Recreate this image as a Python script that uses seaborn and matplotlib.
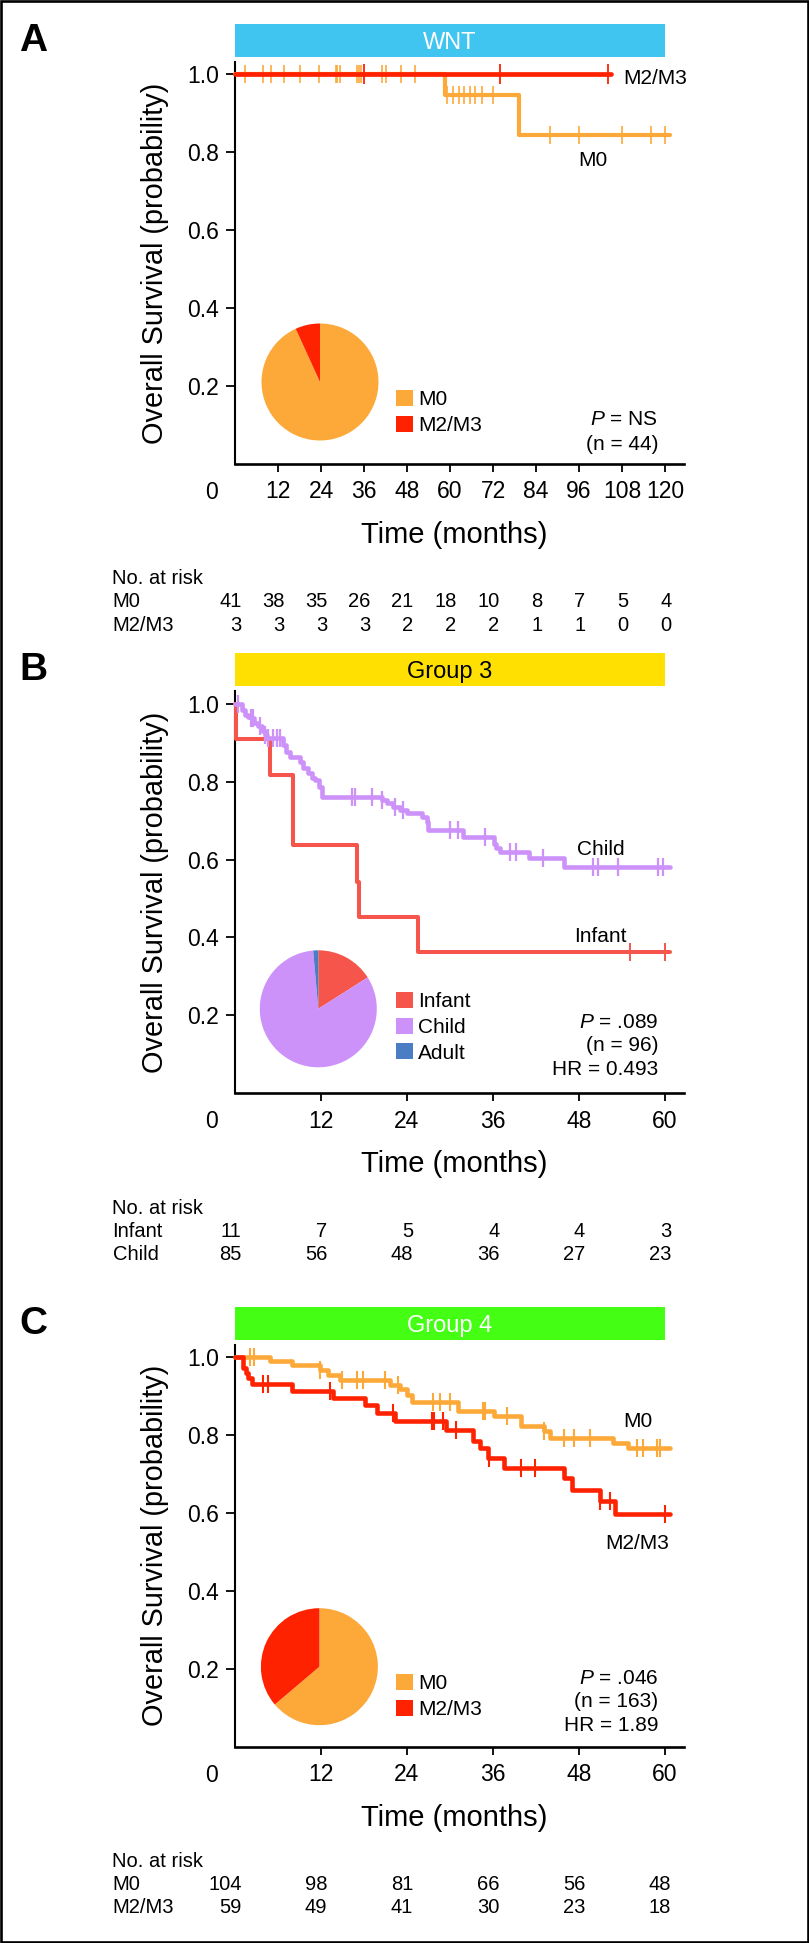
import numpy as np
import pandas as pd
import matplotlib
matplotlib.use("Agg")
import matplotlib.pyplot as plt
import seaborn as sns
from matplotlib.patches import Rectangle
from matplotlib import transforms

# ---------------- data ----------------
months_A = [0, 12, 24, 36, 48, 60, 72, 84, 96, 108, 120]
months_BC = [0, 12, 24, 36, 48, 60]
y_ticks = [0.2, 0.4, 0.6, 0.8, 1.0]
y_tick_labels = ["0.2", "0.4", "0.6", "0.8", "1.0"]

# Panel A - WNT
wnt_m0_time = [0, 58.7, 79.3, 121.5]
wnt_m0_surv = [1.0, 0.948, 0.844, 0.844]
wnt_m0_cens = [2.8, 7.7, 10.0, 13.8, 18.0, 23.5, 28.1, 28.6, 29.2, 34.0, 34.6, 35.2,
               41.0, 42.1, 46.2, 50.3, 59.2, 60.8, 62.5, 63.9, 65.7, 67.1, 69.0, 72.0,
               87.9, 96.0, 107.9, 116.1, 120.0]
wnt_m23_time = [0, 104.9]
wnt_m23_surv = [1.0, 1.0]
wnt_m23_cens = [35.9, 73.9, 104.2]
wnt_risk_m0 = [41, 38, 35, 26, 21, 18, 10, 8, 7, 5, 4]
wnt_risk_m23 = [3, 3, 3, 3, 2, 2, 2, 1, 1, 0, 0]
wnt_pie_labels = ["M0", "M2/M3"]
wnt_pie_values = [41, 3]

# Panel B - Group 3
g3_infant_time = [0, 0.15, 4.9, 8.05, 17.0, 17.3, 25.6, 60.8]
g3_infant_surv = [1.0, 0.909, 0.817, 0.637, 0.543, 0.453, 0.362, 0.362]
g3_infant_cens = [55.2, 60.1]
g3_child_time = [0, 0.93, 1.4, 1.86, 2.19, 2.65, 3.26, 3.72, 4.19, 4.52,
                 6.75, 7.12, 7.68, 9.08, 9.54, 10.24, 10.7, 11.17, 11.77, 12.1,
                 20.5, 21.2, 22.1, 23.05, 24.0, 26.1, 26.8, 27.0, 31.9, 36.1,
                 36.5, 37.0, 41.0, 45.9, 60.8]
g3_child_surv = [1.0, 0.985, 0.972, 0.967, 0.963, 0.950, 0.942, 0.929, 0.920, 0.912,
                 0.894, 0.877, 0.864, 0.851, 0.834, 0.822, 0.809, 0.804, 0.787, 0.761,
                 0.753, 0.744, 0.736, 0.727, 0.719, 0.710, 0.697, 0.676, 0.658, 0.641,
                 0.629, 0.620, 0.603, 0.581, 0.581]
g3_child_cens = [0.47, 2.19, 2.56, 3.49, 4.19, 4.66, 5.35, 5.82, 6.28, 16.3, 16.8, 19.1,
                 20.5, 22.3, 23.5, 30.0, 31.2, 34.9, 38.4, 39.3, 43.0, 50.0, 50.7, 53.5,
                 59.1, 59.8]
g3_risk_infant = [11, 7, 5, 4, 4, 3]
g3_risk_child = [85, 56, 48, 36, 27, 23]
g3_pie_labels = ["Infant", "Child", "Adult"]
g3_pie_values = [16, 82.6, 1.4]

# Panel C - Group 4
g4_m0_time = [0, 4.9, 7.9, 11.9, 13.0, 14.7, 21.6, 23.0, 24.0, 24.7, 31.2, 36.1,
              40.0, 43.1, 44.0, 52.8, 54.9, 60.8]
g4_m0_surv = [1.0, 0.991, 0.980, 0.968, 0.953, 0.942, 0.929, 0.917, 0.903, 0.886,
              0.861, 0.848, 0.824, 0.810, 0.793, 0.780, 0.766, 0.766]
g4_m0_cens = [2.1, 2.65, 11.9, 14.9, 17.0, 17.9, 21.0, 22.8, 27.7, 28.6, 30.0, 34.7,
              34.9, 38.0, 43.1, 45.9, 47.3, 49.6, 56.1, 57.0, 58.9, 59.4]
g4_m23_time = [0, 1.16, 1.54, 1.86, 2.33, 7.9, 13.7, 18.1, 19.8, 22.3, 29.5, 33.2,
               34.2, 35.3, 37.5, 46.0, 47.0, 51.0, 53.0, 60.8]
g4_m23_surv = [1.0, 0.972, 0.959, 0.946, 0.931, 0.912, 0.895, 0.878, 0.856, 0.835,
               0.814, 0.785, 0.767, 0.741, 0.715, 0.690, 0.660, 0.630, 0.597, 0.597]
g4_m23_cens = [3.96, 4.66, 13.3, 22.1, 27.5, 27.8, 29.0, 30.9, 35.5, 40.0, 41.9,
               51.0, 52.4, 60.1]
g4_risk_m0 = [104, 98, 81, 66, 56, 48]
g4_risk_m23 = [59, 49, 41, 30, 23, 18]
g4_pie_labels = ["M0", "M2/M3"]
g4_pie_values = [104, 59]

# ---------------- colours ----------------
ORANGE = "#FCA93A"
RED = "#FF2200"
INFANT = "#F5554B"
CHILD = "#CD91FA"
ADULT = "#4A7DC4"

# ---------------- style ----------------
W, H = 809, 1943
sns.set_theme(style="ticks", rc={"axes.edgecolor": "black", "xtick.color": "black",
                                 "ytick.color": "black", "text.color": "black",
                                 "axes.labelcolor": "black"})
plt.rcParams["font.family"] = ["Liberation Sans", "DejaVu Sans"]
plt.rcParams["mathtext.fontset"] = "custom"
plt.rcParams["mathtext.it"] = "Liberation Sans:italic"
plt.rcParams["mathtext.rm"] = "Liberation Sans"

fig = plt.figure(figsize=(W / 100, H / 100), dpi=100)

AX_L, AX_R, AX_H = 235, 684, 402


def surv_at(t, s, c):
    t = np.asarray(t)
    s = np.asarray(s)
    idx = np.searchsorted(t, np.asarray(c), side="right") - 1
    return s[idx]


def ctext(x, y, s, size, trans, ha="left", **kw):
    """place text so that its cap-height centre is at (x, y)"""
    off = transforms.offset_copy(trans, fig=fig, x=0, y=-0.358 * size * 100 / 72, units="dots")
    fig.text(x, y, s, transform=off, ha=ha, va="baseline", fontsize=size, **kw)


def fpx(x, y):
    return x / W, 1 - y / H


panels = [
    dict(letter="A", bottom=464.0, xmax=125.3, ticks=months_A, bar_color="#40C4F0",
         bar_text="WNT", bar_text_color="white",
         curves=[(wnt_m0_time, wnt_m0_surv, wnt_m0_cens, ORANGE, 3.0, 150, 1.2),
                 (wnt_m23_time, wnt_m23_surv, wnt_m23_cens, RED, 3.4, 200, 1.3)],
         labels=[("M2/M3", 108.3, 0.995, "left"), ("M0", 99.9, 0.785, "center")],
         pie=(wnt_pie_values, [ORANGE, RED], 320.0, 82.0),
         legend=[(wnt_pie_labels[0], ORANGE, 66.0), (wnt_pie_labels[1], RED, 40.5)],
         stats=[("$P$ = NS", 46.0), ("(n = 44)", 21.0)],
         risk=[("M0", wnt_risk_m0), ("M2/M3", wnt_risk_m23)]),
    dict(letter="B", bottom=1093.3, xmax=62.7, ticks=months_BC, bar_color="#FFE000",
         bar_text="Group 3", bar_text_color="black",
         curves=[(g3_infant_time, g3_infant_surv, g3_infant_cens, INFANT, 2.9, 180, 1.4),
                 (g3_child_time, g3_child_surv, g3_child_cens, CHILD, 3.3, 180, 1.6)],
         labels=[("Child", 51.1, 0.631, "center"), ("Infant", 51.0, 0.408, "center")],
         pie=(g3_pie_values, [INFANT, CHILD, ADULT], 318.3, 84.5),
         legend=[(g3_pie_labels[0], INFANT, 93.6), (g3_pie_labels[1], CHILD, 67.6),
                 (g3_pie_labels[2], ADULT, 42.0)],
         stats=[("$P$ = .089", 72.6), ("(n = 96)", 49.3), ("HR = 0.493", 26.0)],
         risk=[("Infant", g3_risk_infant), ("Child", g3_risk_child)]),
    dict(letter="C", bottom=1746.7, xmax=62.7, ticks=months_BC, bar_color="#44FF14",
         bar_text="Group 4", bar_text_color="white",
         curves=[(g4_m0_time, g4_m0_surv, g4_m0_cens, ORANGE, 3.3, 170, 1.5),
                 (g4_m23_time, g4_m23_surv, g4_m23_cens, RED, 3.3, 170, 1.5)],
         labels=[("M0", 56.3, 0.84, "center"), ("M2/M3", 56.1, 0.527, "center")],
         pie=(g4_pie_values, [ORANGE, RED], 319.4, 80.0),
         legend=[(g4_pie_labels[0], ORANGE, 64.7), (g4_pie_labels[1], RED, 39.0)],
         stats=[("$P$ = .046", 70.0), ("(n = 163)", 46.7), ("HR = 1.89", 23.4)],
         risk=[("M0", g4_risk_m0), ("M2/M3", g4_risk_m23)]),
]

for p in panels:
    b = p["bottom"]
    ax = fig.add_axes([AX_L / W, 1 - b / H, (AX_R - AX_L) / W, AX_H / H])
    ax.set_facecolor("none")

    for i, (t, s, c, col, lw, ms, mw) in enumerate(p["curves"]):
        sns.lineplot(x=t, y=s, drawstyle="steps-post", color=col, linewidth=lw,
                     estimator=None, sort=False, legend=False, ax=ax, zorder=3 + 2 * i,
                     clip_on=False)
        sns.scatterplot(x=c, y=surv_at(t, s, c), marker="|", s=ms, linewidth=mw,
                        color=col, legend=False, ax=ax, zorder=4 + 2 * i, clip_on=False)

    ax.set_xlim(0, p["xmax"])
    ax.set_ylim(0, 1.032)
    ticks = p["ticks"]
    ax.set_xticks(ticks[1:])
    ax.set_xticklabels([str(v) for v in ticks[1:]])
    ax.set_yticks(y_ticks)
    ax.set_yticklabels(y_tick_labels)
    sns.despine(ax=ax)
    ax.spines["left"].set_linewidth(1.5)
    ax.spines["bottom"].set_linewidth(1.9)
    ax.tick_params(axis="both", direction="out", width=1.3, labelsize=16.5)
    ax.tick_params(axis="x", length=5.8, pad=6.0)
    ax.tick_params(axis="y", length=6.5, pad=5.0)
    ax.annotate(str(ticks[0]), xy=(0, 0), xycoords="data", xytext=(-23.5, -17),
                textcoords="offset pixels", ha="center", va="top", fontsize=16.5)

    ax.set_xlabel("Time (months)", fontsize=21)
    ax.xaxis.set_label_coords((454 - AX_L) / (AX_R - AX_L), -71 / AX_H)
    ax.xaxis.label.set_verticalalignment("center")
    ax.set_ylabel("Overall Survival (probability)", fontsize=20.8)
    ax.yaxis.set_label_coords((155 - AX_L) / (AX_R - AX_L), 0.5)
    ax.yaxis.label.set_verticalalignment("center")

    data_fig = transforms.blended_transform_factory(ax.transData, fig.transFigure)

    # header bar
    bar_bot = b - 407
    bar_top = b - 440
    ax.add_patch(Rectangle((0, 1 - bar_bot / H), ticks[-1], (bar_bot - bar_top) / H,
                           transform=data_fig, facecolor=p["bar_color"], edgecolor="none",
                           clip_on=False))
    ctext(ticks[-1] / 2, 1 - (bar_top + bar_bot) / 2 / H, p["bar_text"], 17, data_fig,
          ha="center", color=p["bar_text_color"])

    # panel letter
    fig.text(33 / W, 1 - (bar_top - 1) / H, p["letter"], fontsize=28, fontweight="bold",
             ha="center", va="top")

    # curve labels
    for txt, lx, ly, ha in p["labels"]:
        ctext(lx, ly, txt, 15, ax.transData, ha=ha)

    # pie
    vals, cols, cx, up = p["pie"]
    r = 58.5
    cy = b - up
    pax = fig.add_axes([(cx - r) / W, 1 - (cy + r) / H, 2 * r / W, 2 * r / H])
    pax.pie(vals, colors=cols, startangle=90, counterclock=False,
            wedgeprops=dict(linewidth=0))
    pax.set_xlim(-1, 1)
    pax.set_ylim(-1, 1)
    pax.set_aspect("equal")

    # legend
    for txt, col, up in p["legend"]:
        yc = b - up
        fig.patches.append(Rectangle(fpx(396, yc + 8), 17 / W, 16 / H,
                                     transform=fig.transFigure, facecolor=col,
                                     edgecolor="none", figure=fig))
        x0, y0 = fpx(418, yc)
        ctext(x0, y0, txt, 15, fig.transFigure, ha="left")

    # stats
    for txt, up in p["stats"]:
        x0, y0 = fpx(658, b - up)
        ctext(x0, y0, txt, 15, fig.transFigure, ha="right")

    # risk table
    x0, y0 = fpx(112.5, b + 113)
    ctext(x0, y0, "No. at risk", 14.5, fig.transFigure, ha="left")
    for k, (name, counts) in enumerate(p["risk"]):
        yrow = b + 136 + 23.5 * k
        x0, y0 = fpx(112.5, yrow)
        ctext(x0, y0, name, 14.5, fig.transFigure, ha="left")
        shifted = transforms.offset_copy(data_fig, fig=fig, x=6.5, y=0, units="dots")
        for tm, n in zip(ticks, counts):
            ctext(tm, 1 - yrow / H, str(n), 14.5, shifted, ha="right")

# outer frame
fig.patches.append(Rectangle((1.3 / W, 1.3 / H), 1 - 2.6 / W, 1 - 2.6 / H,
                             transform=fig.transFigure, fill=False, edgecolor="black",
                             linewidth=1.9, figure=fig))

fig.savefig("out.png", dpi=100)
